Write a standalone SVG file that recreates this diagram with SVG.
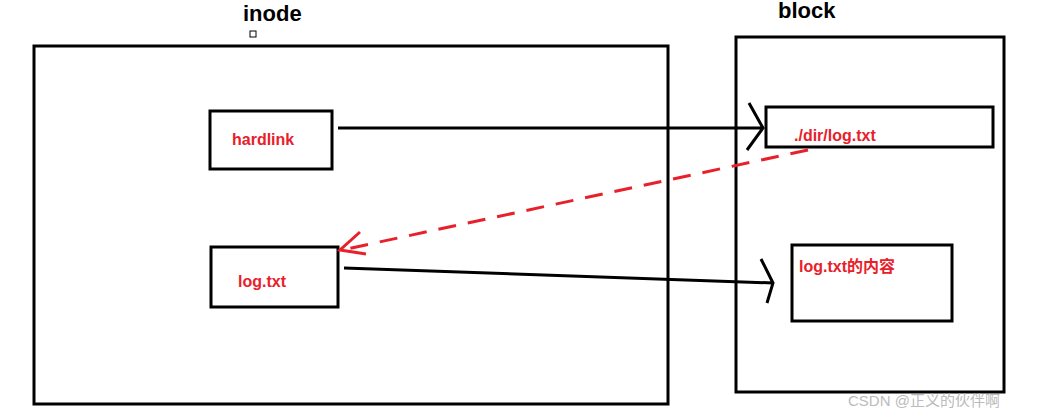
<svg xmlns="http://www.w3.org/2000/svg" width="1056" height="420" viewBox="0 0 1056 420">
<style>
.box{fill:none;stroke:#000;stroke-width:3}
.lbl{font-family:"Liberation Sans","Noto Sans CJK SC",sans-serif;font-weight:bold;font-size:16px;fill:#e8202a}
.title{font-family:"Liberation Sans",sans-serif;font-weight:bold;font-size:22px;fill:#000}
.arr{fill:none;stroke:#000;stroke-width:3}
.dash{fill:none;stroke:#e8202a;stroke-width:3;stroke-dasharray:18 12}
</style>
<rect width="1056" height="420" fill="#fff"/>
<text class="title" x="243" y="21">inode</text>
<rect x="250" y="31" width="6" height="6" fill="none" stroke="#000" stroke-width="1"/>
<text class="title" x="778" y="18">block</text>
<g id="inode"><rect class="box" x="34" y="46" width="634" height="358"/></g>
<g id="block"><rect class="box" x="736" y="37" width="268" height="355"/></g>
<g id="hardlink"><rect class="box" x="210" y="111" width="122" height="58"/><text class="lbl" x="232" y="145">hardlink</text></g>
<g id="logtxt"><rect class="box" x="211" y="247" width="127" height="60"/><text class="lbl" x="238" y="287">log.txt</text></g>
<g id="dirent"><rect class="box" x="766" y="107" width="227" height="40"/><text class="lbl" x="794" y="141">./dir/log.txt</text></g>
<g id="content"><rect class="box" x="792" y="245" width="160" height="76"/><text class="lbl" x="799" y="272">log.txt的内容</text></g>
<g id="connectors">
<path class="arr" d="M338 128 L763 128 M749 103 L763 128 L747 150"/>
<path class="arr" d="M344 268 L773 283 M761 259 L773 283 L767 303"/>
<path class="dash" d="M808 150 L342 250"/>
<path fill="none" stroke="#e8202a" stroke-width="3" d="M360 232 L340 250 L366 254"/>
</g>
<text x="848" y="406" font-family="'Liberation Sans','Noto Sans CJK SC',sans-serif" font-size="15" fill="#bbb">CSDN @正义的伙伴啊</text>
</svg>
